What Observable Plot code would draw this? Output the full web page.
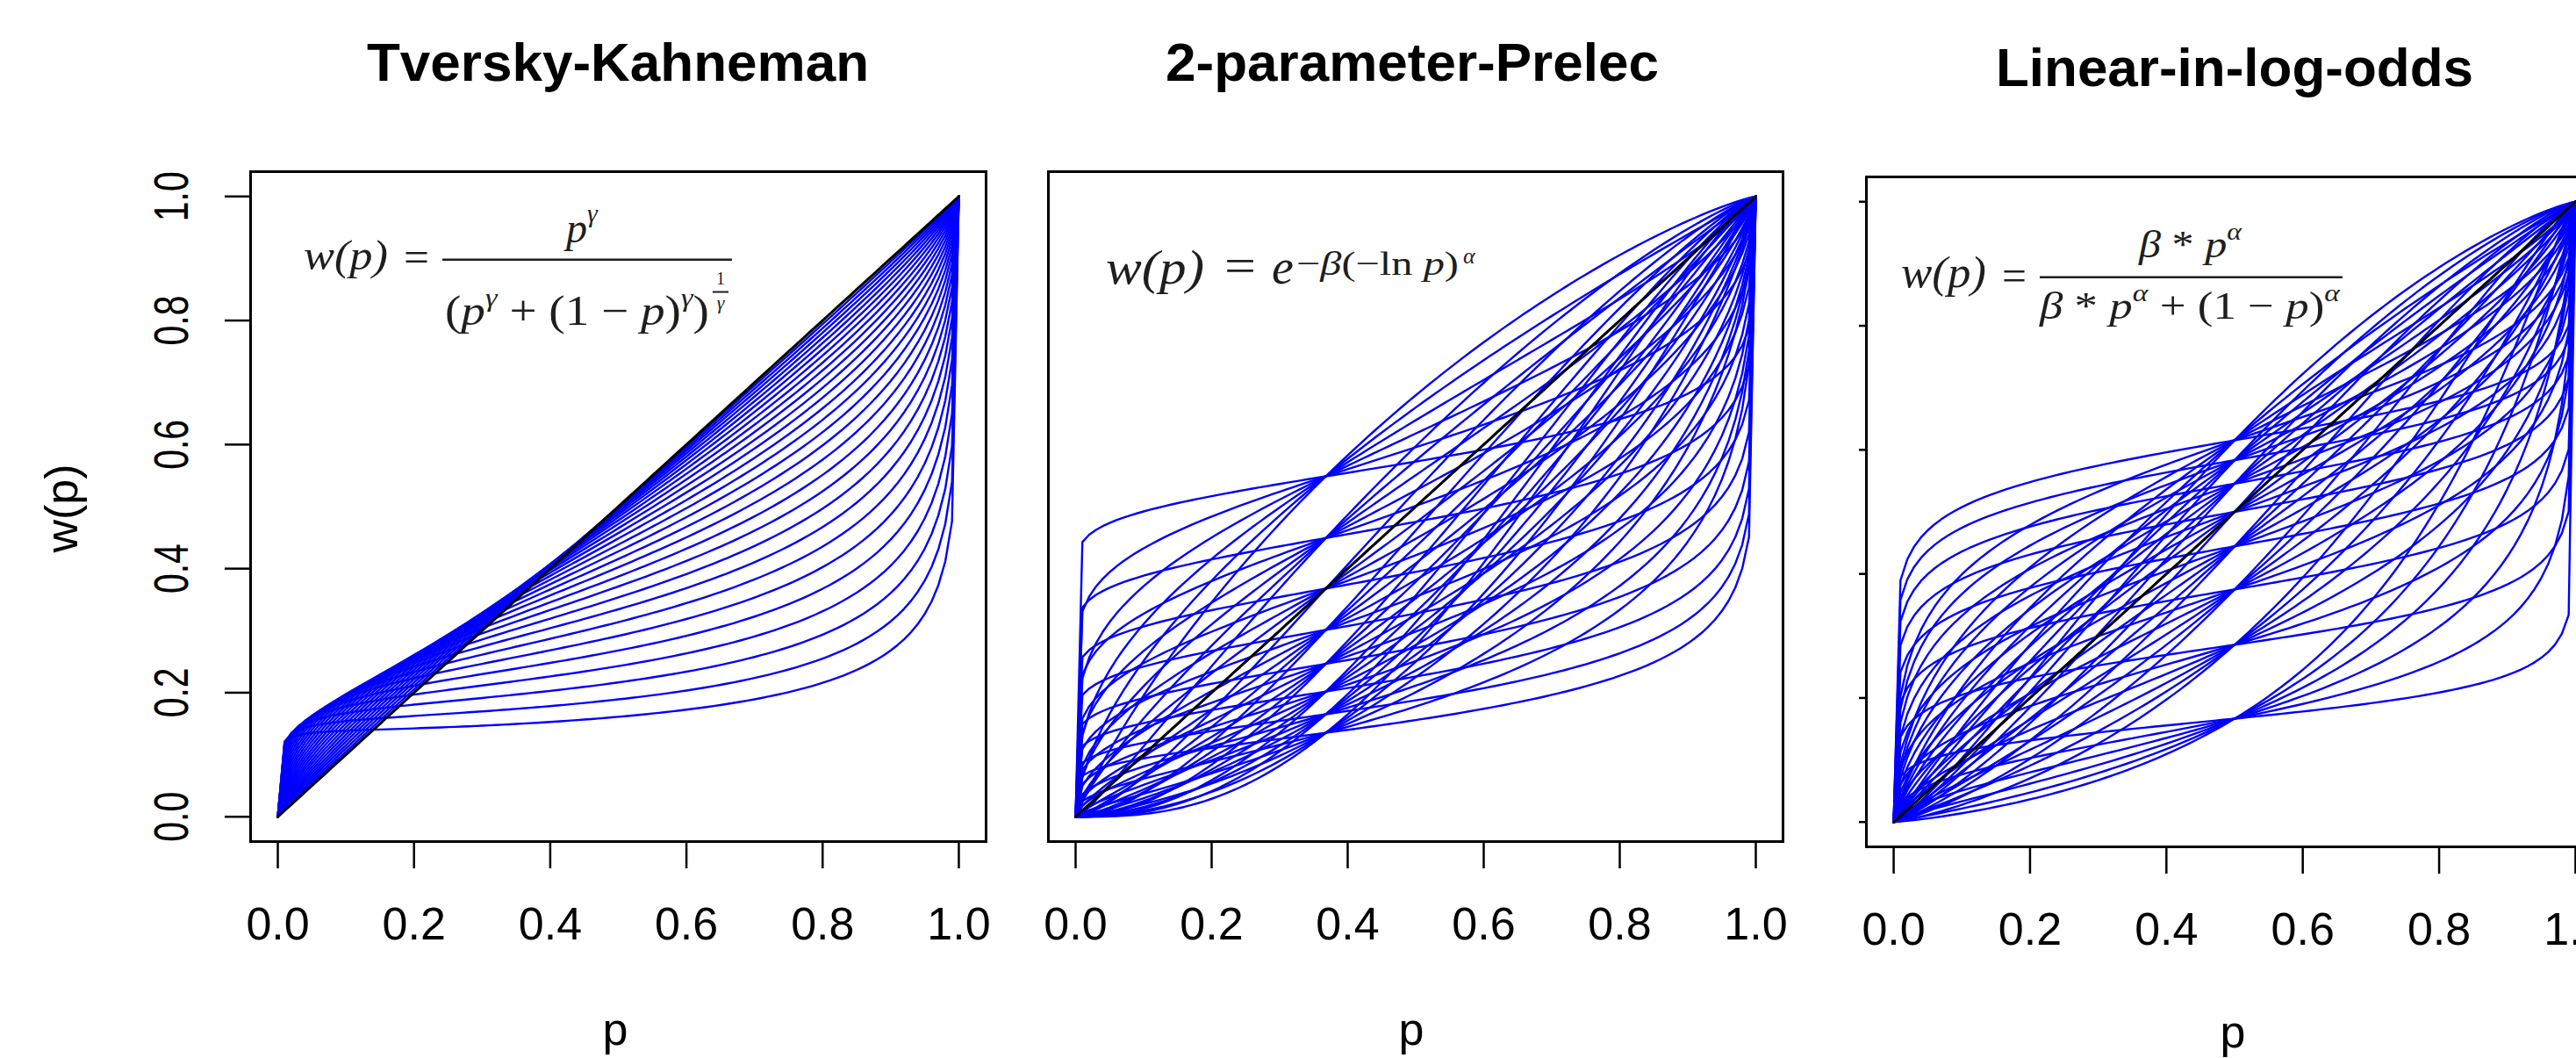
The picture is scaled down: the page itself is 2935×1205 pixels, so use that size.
<!DOCTYPE html>
<html>
<head>
<meta charset="utf-8">
<script src="https://cdn.jsdelivr.net/npm/d3@7"></script>
<script src="https://cdn.jsdelivr.net/npm/@observablehq/plot@0.6"></script>
<style>
html, body { margin: 0; padding: 0; background: #fff; overflow: hidden; }
#wrap { position: relative; width: 2935px; height: 1205px; overflow: hidden; background: #fff; }
.panel { position: absolute; top: 0; }
#overlay { position: absolute; left: 0; top: 0; pointer-events: none; }
</style>
</head>
<body>
<div id="wrap"></div>
<script>
// ---- data ----
const titles = ["Tversky-Kahneman", "2-parameter-Prelec", "Linear-in-log-odds"];
const xTicks = [0.0, 0.2, 0.4, 0.6, 0.8, 1.0];
const yTicks = [0.0, 0.2, 0.4, 0.6, 0.8, 1.0];
const xLabel = "p";
const yLabel = "w(p)";
// Tversky-Kahneman curvature parameters (gamma)
const tkGamma = [0.300, 0.325, 0.350, 0.375, 0.400, 0.425, 0.450, 0.475, 0.500, 0.525,
                 0.550, 0.575, 0.600, 0.625, 0.650, 0.675, 0.700, 0.725, 0.750, 0.775,
                 0.800, 0.825, 0.850, 0.875, 0.900, 0.925, 0.950, 0.975];
// 2-parameter Prelec
const prelecAlpha = [0.2, 0.4, 0.6, 0.8, 1.0, 1.2];
const prelecBeta  = [0.6, 0.8, 1.0, 1.2, 1.4, 1.6, 1.8, 2.0];
// Linear-in-log-odds
const lloAlpha = [0.2, 0.4, 0.6, 0.8, 1.0, 1.2];
const lloBeta  = [0.2, 0.4, 0.6, 0.8, 1.0, 1.2, 1.4, 1.6];

// probability grid on which the plotted functions are evaluated
const pGrid = d3.range(0, 101).map(i => i / 100);

// the functions printed in each panel
const tk = (p, g) => { const a = Math.pow(p, g), b = Math.pow(1 - p, g); return a / Math.pow(a + b, 1 / g); };
const prelec = (p, a, b) => p <= 0 ? 0 : Math.exp(-b * Math.pow(Math.max(0, -Math.log(p)), a));
const llo = (p, a, b) => { const n = b * Math.pow(p, a); return n / (n + Math.pow(1 - p, a)); };

const tkRows = tkGamma.flatMap((g, i) => pGrid.map(p => ({p, w: tk(p, g), id: i})));
const prelecRows = prelecBeta.flatMap((b, j) => prelecAlpha.flatMap((a, i) => pGrid.map(p => ({p, w: prelec(p, a, b), id: j * 100 + i}))));
const lloRows = lloBeta.flatMap((b, j) => lloAlpha.flatMap((a, i) => pGrid.map(p => ({p, w: llo(p, a, b), id: j * 100 + i}))));
const diagRows = pGrid.map(p => ({p, w: p}));

const wrap = document.getElementById("wrap");
const fmt = d3.format(".1f");
const FONT = "'Liberation Sans', Arial, Helvetica, sans-serif";

function panel(rows, {left, width, mTop, mBottom, mLeft, mRight, yAxis}) {
  const marks = [
    Plot.frame({stroke: "black", strokeWidth: 3}),
    Plot.line(rows, {x: "p", y: "w", z: "id", stroke: "#0000ff", strokeWidth: 2.4}),
    Plot.line(diagRows, {x: "p", y: "w", stroke: "black", strokeWidth: 3}),
    Plot.axisX(xTicks, {tickSize: 31, tickPadding: 44, tickFormat: fmt, fontSize: 52, strokeWidth: 2.5, label: null, fill: "black"})
  ];
  if (yAxis === "full") marks.push(Plot.axisY(yTicks, {tickSize: 29, tickPadding: 43, tickRotate: -90, tickFormat: fmt, fontSize: 56, strokeWidth: 2.5, label: null, fill: "black"}));
  if (yAxis === "stub") marks.push(Plot.axisY(yTicks, {tickSize: 8, tickFormat: () => "", strokeWidth: 2.5, label: null}));
  const svg = Plot.plot({
    width, height: 1205,
    marginLeft: mLeft, marginRight: mRight, marginTop: mTop, marginBottom: mBottom,
    x: {domain: [-0.04, 1.04]},
    y: {domain: [-0.04, 1.04], axis: yAxis ? undefined : null},
    style: {background: "transparent", fontFamily: FONT, color: "black", overflow: "visible"},
    marks
  });
  svg.querySelectorAll('g[aria-label="y-axis tick label"] text').forEach(t => {
    t.setAttribute("transform", (t.getAttribute("transform") || "") + " scale(0.73,1)");
  });
  const div = document.createElement("div");
  div.className = "panel";
  div.style.left = left + "px";
  div.style.width = width + "px";
  div.appendChild(svg);
  wrap.appendChild(div);
}

panel(tkRows,     {left: 0,    width: 1160, mTop: 195, mBottom: 247, mLeft: 285, mRight: 37, yAxis: "full"});
panel(prelecRows, {left: 1160, width: 930,  mTop: 195, mBottom: 247, mLeft: 34,  mRight: 59, yAxis: null});
panel(lloRows,    {left: 2090, width: 900,  mTop: 201, mBottom: 241, mLeft: 36,  mRight: 25, yAxis: "stub"});

// ---- titles, axis titles and formulas ----
const NS = "http://www.w3.org/2000/svg";
const ov = document.createElementNS(NS, "svg");
ov.setAttribute("id", "overlay");
ov.setAttribute("width", 2935);
ov.setAttribute("height", 1205);
ov.innerHTML = `
<g font-family="${FONT}" fill="black">
  <text x="704" y="92" font-size="62" font-weight="bold" text-anchor="middle">${titles[0]}</text>
  <text x="1609" y="92" font-size="62" font-weight="bold" text-anchor="middle">${titles[1]}</text>
  <text x="2546" y="98" font-size="62" font-weight="bold" text-anchor="middle">${titles[2]}</text>
  <text x="701" y="1190" font-size="52" text-anchor="middle">${xLabel}</text>
  <text x="1608" y="1190" font-size="52" text-anchor="middle">${xLabel}</text>
  <text x="2544" y="1193" font-size="52" text-anchor="middle">${xLabel}</text>
  <text transform="translate(88,579) rotate(-90)" font-size="52" text-anchor="middle">${yLabel}</text>
</g>
<g font-family="'Liberation Serif', 'Times New Roman', serif" fill="#1e1e1e">
  <!-- Tversky-Kahneman -->
  <text x="346" y="307" font-size="48" font-style="italic" textLength="96" lengthAdjust="spacingAndGlyphs">w(p)</text>
  <text x="460" y="309" font-size="48" textLength="29" lengthAdjust="spacingAndGlyphs">=</text>
  <rect x="504" y="294.5" width="330" height="2.5"/>
  <text x="645" y="276" font-size="48" font-style="italic">p<tspan font-size="30" dy="-23">γ</tspan></text>
  <text x="507" y="370" font-size="48" textLength="301" lengthAdjust="spacingAndGlyphs">(<tspan font-style="italic">p</tspan><tspan font-size="30" font-style="italic" dy="-21">γ</tspan><tspan dy="21"> + (1 − </tspan><tspan font-style="italic">p</tspan>)<tspan font-size="30" font-style="italic" dy="-21">γ</tspan><tspan dy="21">)</tspan></text>
  <text x="821" y="324" font-size="20" text-anchor="middle">1</text>
  <rect x="812" y="331.5" width="18" height="2"/>
  <text x="821" y="352" font-size="22" font-style="italic" text-anchor="middle">γ</text>
  <!-- Prelec -->
  <text x="1260" y="323" font-size="54" font-style="italic" textLength="112" lengthAdjust="spacingAndGlyphs">w(p)</text>
  <text x="1395" y="321" font-size="54" textLength="36" lengthAdjust="spacingAndGlyphs">=</text>
  <text x="1449" y="323" font-size="56" font-style="italic">e</text>
  <text x="1477" y="313" font-size="38" textLength="185" lengthAdjust="spacingAndGlyphs">−<tspan font-style="italic">β</tspan>(−ln <tspan font-style="italic">p</tspan>)</text>
  <text x="1667" y="300" font-size="26" font-style="italic">α</text>
  <!-- Linear in log odds -->
  <text x="2166" y="327" font-size="50" font-style="italic" textLength="97" lengthAdjust="spacingAndGlyphs">w(p)</text>
  <text x="2281" y="331" font-size="50" textLength="28" lengthAdjust="spacingAndGlyphs">=</text>
  <rect x="2324" y="314.5" width="345" height="2.5"/>
  <text x="2437" y="293" font-size="44" textLength="117" lengthAdjust="spacingAndGlyphs"><tspan font-style="italic">β</tspan> * <tspan font-style="italic">p</tspan><tspan font-size="28" font-style="italic" dy="-20">α</tspan></text>
  <text x="2324" y="363" font-size="44" textLength="342" lengthAdjust="spacingAndGlyphs"><tspan font-style="italic">β</tspan> * <tspan font-style="italic">p</tspan><tspan font-size="28" font-style="italic" dy="-20">α</tspan><tspan dy="20"> + (1 − </tspan><tspan font-style="italic">p</tspan>)<tspan font-size="28" font-style="italic" dy="-20">α</tspan></text>
</g>`;
wrap.appendChild(ov);
</script>
</body>
</html>
